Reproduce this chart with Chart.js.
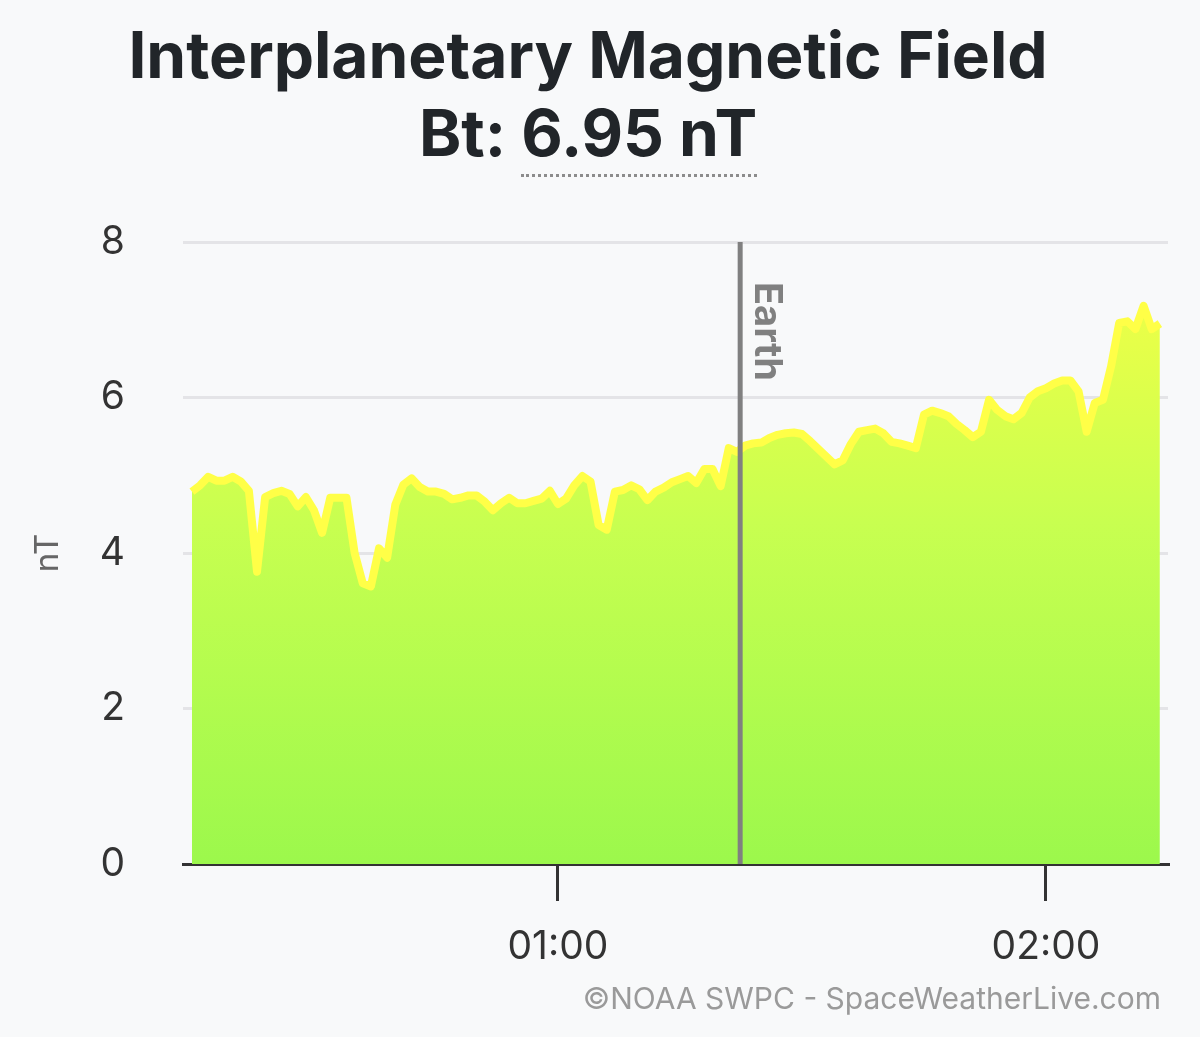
<!DOCTYPE html>
<html>
<head>
<meta charset="utf-8">
<title>Interplanetary Magnetic Field</title>
<script src="https://cdn.jsdelivr.net/npm/chart.js@4"></script>
<style>
  html, body { margin: 0; padding: 0; background: #f8f9fa; }
  body { width: 1200px; height: 1037px; position: relative; overflow: hidden; font-family: Inter, "Noto Sans", sans-serif; }
  #title {
    position: absolute; left: 0; top: 16px; width: 1176px;
    text-align: center; color: #212529; font-weight: 700;
    font-size: 64px; line-height: 78px; letter-spacing: 0;
  }
  #title .val { border-bottom: 3px dotted #8c8c8c; padding-bottom: 3px; }
  #credit {
    position: absolute; right: 39px; top: 980px;
    font-size: 30px; color: #9a9a9a;
  }
  #wrap { position: absolute; left: 0; top: 0; width: 1200px; height: 1037px; }
</style>
</head>
<body>
<div id="wrap"><canvas id="imfChart" width="1200" height="1037"></canvas></div>
<div id="title">Interplanetary Magnetic Field<br>Bt: <span class="val">6.95 nT</span></div>
<div id="credit">©NOAA SWPC - SpaceWeatherLive.com</div>
<script>
// Bt readings, one per minute, starting at 00:15 UTC
const startMinute = 15;
const btValues = [
  4.79, 4.87, 4.98, 4.93, 4.93, 4.98, 4.92, 4.80, 3.76, 4.72,
  4.77, 4.80, 4.76, 4.60, 4.72, 4.55, 4.26, 4.71, 4.71, 4.71,
  4.00, 3.61, 3.57, 4.06, 3.94, 4.62, 4.88, 4.96, 4.85, 4.79,
  4.79, 4.76, 4.69, 4.71, 4.74, 4.74, 4.66, 4.55, 4.64, 4.71,
  4.64, 4.64, 4.67, 4.70, 4.80, 4.63, 4.70, 4.87, 4.99, 4.92,
  4.36, 4.30, 4.79, 4.81, 4.87, 4.82, 4.68, 4.79, 4.84, 4.91,
  4.95, 4.99, 4.90, 5.08, 5.08, 4.86, 5.35, 5.30, 5.38, 5.41,
  5.42, 5.48, 5.52, 5.54, 5.55, 5.53, 5.44, 5.34, 5.24, 5.14,
  5.19, 5.40, 5.56, 5.58, 5.60, 5.54, 5.43, 5.41, 5.38, 5.35,
  5.78, 5.83, 5.80, 5.76, 5.66, 5.58, 5.49, 5.56, 5.97, 5.84,
  5.76, 5.72, 5.80, 6.00, 6.08, 6.12, 6.18, 6.22, 6.22, 6.08,
  5.56, 5.93, 5.97, 6.40, 6.96, 6.98, 6.88, 7.18, 6.88, 6.95
];
const xTickValues = [60, 120];
const xTickLabels = ['01:00', '02:00'];
const xRange = [13.9, 135.0];
const yTickStep = 2;
const yRange = [0, 8];
const earthMinute = 82.4;
const earthLabel = 'Earth';

const points = btValues.map((v, i) => ({ x: startMinute + i, y: v }));

// Vertical "Earth" marker
const earthMarker = {
  id: 'earthMarker',
  afterDatasetsDraw(chart) {
    const { ctx, chartArea, scales } = chart;
    const x = scales.x.getPixelForValue(earthMinute);
    ctx.save();
    ctx.strokeStyle = '#808080';
    ctx.lineWidth = 5;
    ctx.beginPath();
    ctx.moveTo(x, chartArea.top);
    ctx.lineTo(x, chartArea.bottom);
    ctx.stroke();
    ctx.translate(x + 15, chartArea.top + 40);
    ctx.rotate(Math.PI / 2);
    ctx.fillStyle = '#808080';
    ctx.font = 'bold 38px Inter, "Noto Sans", sans-serif';
    ctx.textAlign = 'left';
    ctx.textBaseline = 'alphabetic';
    ctx.fillText(earthLabel, 0, 0);
    ctx.restore();
  }
};

function fillGradient(context) {
  const area = context.chart.chartArea;
  if (!area) return '#c0ff50';
  const g = context.chart.ctx.createLinearGradient(0, area.top, 0, area.bottom);
  g.addColorStop(0, '#f6ff45');
  g.addColorStop(0.45, '#c8ff50');
  g.addColorStop(1, '#9cf84c');
  return g;
}

new Chart(document.getElementById('imfChart'), {
  type: 'line',
  data: {
    datasets: [{
      label: 'Bt',
      data: points,
      borderColor: '#ffff47',
      borderWidth: 8,
      borderJoinStyle: 'round',
      backgroundColor: fillGradient,
      fill: 'origin',
      pointRadius: 0,
      tension: 0
    }]
  },
  options: {
    responsive: false,
    animation: false,
    layout: { padding: { left: 0, right: 32, top: 242, bottom: 73 } },
    plugins: { legend: { display: false }, tooltip: { enabled: false } },
    scales: {
      x: {
        type: 'linear',
        min: xRange[0], max: xRange[1],
        afterBuildTicks: s => { s.ticks = xTickValues.map(v => ({ value: v })); },
        afterFit: s => { s.height = 100; },
        grid: { drawOnChartArea: false, drawTicks: true, tickLength: 37, color: '#333', lineWidth: 3 },
        border: { display: true, color: '#333', width: 3 },
        ticks: {
          padding: 23, color: '#333', maxRotation: 0, autoSkip: false,
          font: { family: 'Inter', size: 39 },
          callback: (v) => xTickLabels[xTickValues.indexOf(v)]
        }
      },
      y: {
        min: yRange[0], max: yRange[1],
        afterFit: s => { s.width = 183; },
        grid: { drawTicks: false, color: '#e4e4e7', lineWidth: 3 },
        border: { display: false },
        ticks: { stepSize: yTickStep, padding: 58, color: '#333', font: { family: 'Inter', size: 39 } },
        title: { display: true, text: 'nT', color: '#666', padding: { top: 28, bottom: 0 }, font: { family: 'Inter', size: 33 } }
      }
    }
  },
  plugins: [earthMarker]
});
</script>
</body>
</html>
